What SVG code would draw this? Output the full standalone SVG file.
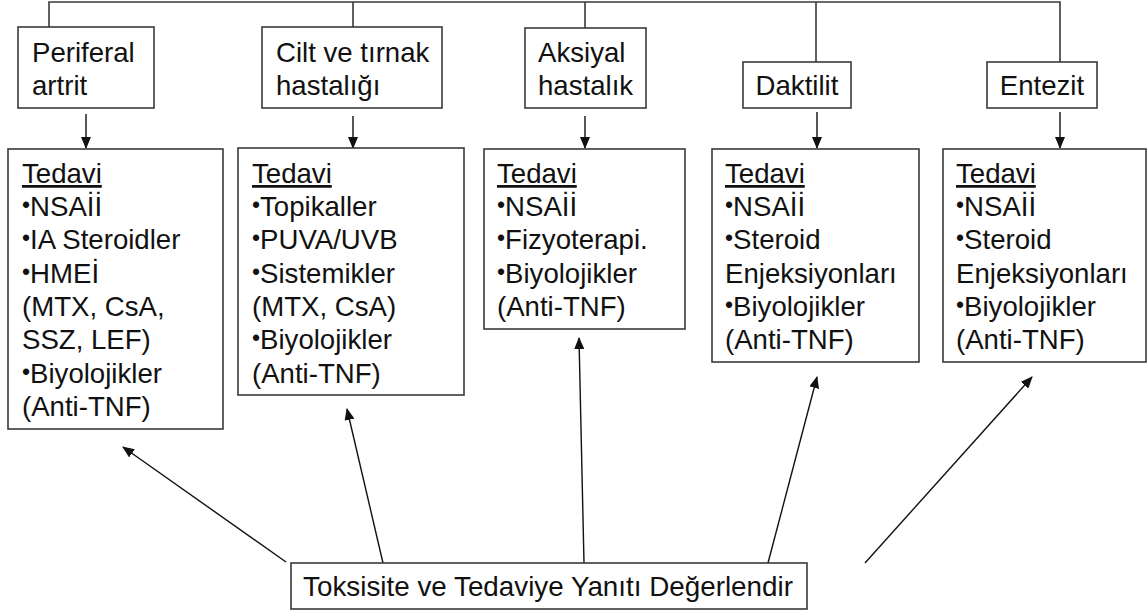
<svg xmlns="http://www.w3.org/2000/svg" width="1148" height="611" viewBox="0 0 1148 611">
<style>
.box{fill:#fff;stroke:#3a3a3a;stroke-width:1.6}
.t{font-family:"Liberation Sans",Arial,sans-serif;font-size:27.6px;fill:#111}
.u{text-decoration:underline}
.b{font-size:23px;baseline-shift:3px}
.ln{fill:none;stroke:#3a3a3a;stroke-width:1.6}
.ar{fill:none;stroke:#111;stroke-width:1.4;marker-end:url(#ah)}
</style>
<defs>
<marker id="ah" markerUnits="userSpaceOnUse" markerWidth="12" markerHeight="10" refX="11" refY="5" orient="auto">
<path d="M0,0 L12,5 L0,10 Z" fill="#111"/>
</marker>
</defs>
<rect width="1148" height="611" fill="#fff"/>
<g id="connectors">
<path class="ln" d="M49,27 V2 H1060 V62 M353,2 V27 M585,2 V28 M816,2 V62"/>
<line class="ar" x1="86" y1="114" x2="86" y2="148"/>
<line class="ar" x1="353" y1="116" x2="353" y2="148"/>
<line class="ar" x1="585" y1="116" x2="585" y2="148"/>
<line class="ar" x1="817" y1="112" x2="817" y2="148"/>
<line class="ar" x1="1060" y1="112" x2="1060" y2="148"/>
<line class="ar" x1="286" y1="562" x2="123" y2="447"/>
<line class="ar" x1="383" y1="563" x2="347" y2="409"/>
<line class="ar" x1="584" y1="563" x2="579" y2="338"/>
<line class="ar" x1="768" y1="563" x2="817" y2="377"/>
<line class="ar" x1="865" y1="563" x2="1032" y2="377"/>
</g>
<g id="periferal">
<rect class="box" x="18" y="27" width="136" height="81"/>
<text class="t" x="32" y="62">Periferal</text>
<text class="t" x="32" y="95">artrit</text>
</g>
<g id="cilt">
<rect class="box" x="262" y="27" width="180" height="81"/>
<text class="t" x="276" y="62">Cilt ve tırnak</text>
<text class="t" x="276" y="95">hastalığı</text>
</g>
<g id="aksiyal">
<rect class="box" x="525" y="28" width="121" height="80"/>
<text class="t" x="538" y="62">Aksiyal</text>
<text class="t" x="538" y="95">hastalık</text>
</g>
<g id="daktilit">
<rect class="box" x="743" y="62" width="108" height="46"/>
<text class="t" x="797" y="95" text-anchor="middle">Daktilit</text>
</g>
<g id="entezit">
<rect class="box" x="987" y="62" width="110" height="46"/>
<text class="t" x="1042" y="95" text-anchor="middle">Entezit</text>
</g>
<g id="tedavi1">
<rect class="box" x="8" y="149" width="215" height="280"/>
<text class="t u" x="22" y="183">Tedavi</text>
<text class="t" x="22" y="216"><tspan class="b">•</tspan>NSAİİ</text>
<text class="t" x="22" y="249"><tspan class="b">•</tspan>IA Steroidler</text>
<text class="t" x="22" y="283"><tspan class="b">•</tspan>HMEİ</text>
<text class="t" x="22" y="316">(MTX, CsA,</text>
<text class="t" x="22" y="349">SSZ, LEF)</text>
<text class="t" x="22" y="383"><tspan class="b">•</tspan>Biyolojikler</text>
<text class="t" x="22" y="416">(Anti-TNF)</text>
</g>
<g id="tedavi2">
<rect class="box" x="238" y="148" width="226" height="247"/>
<text class="t u" x="252" y="183">Tedavi</text>
<text class="t" x="252" y="216"><tspan class="b">•</tspan>Topikaller</text>
<text class="t" x="252" y="249"><tspan class="b">•</tspan>PUVA/UVB</text>
<text class="t" x="252" y="283"><tspan class="b">•</tspan>Sistemikler</text>
<text class="t" x="252" y="316">(MTX, CsA)</text>
<text class="t" x="252" y="349"><tspan class="b">•</tspan>Biyolojikler</text>
<text class="t" x="252" y="383">(Anti-TNF)</text>
</g>
<g id="tedavi3">
<rect class="box" x="484" y="149" width="201" height="180"/>
<text class="t u" x="497" y="183">Tedavi</text>
<text class="t" x="497" y="216"><tspan class="b">•</tspan>NSAİİ</text>
<text class="t" x="497" y="249"><tspan class="b">•</tspan>Fizyoterapi.</text>
<text class="t" x="497" y="283"><tspan class="b">•</tspan>Biyolojikler</text>
<text class="t" x="497" y="316">(Anti-TNF)</text>
</g>
<g id="tedavi4">
<rect class="box" x="712" y="149" width="207" height="213"/>
<text class="t u" x="725" y="183">Tedavi</text>
<text class="t" x="725" y="216"><tspan class="b">•</tspan>NSAİİ</text>
<text class="t" x="725" y="249"><tspan class="b">•</tspan>Steroid</text>
<text class="t" x="725" y="283">Enjeksiyonları</text>
<text class="t" x="725" y="316"><tspan class="b">•</tspan>Biyolojikler</text>
<text class="t" x="725" y="349">(Anti-TNF)</text>
</g>
<g id="tedavi5">
<rect class="box" x="943" y="149" width="203" height="213"/>
<text class="t u" x="956" y="183">Tedavi</text>
<text class="t" x="956" y="216"><tspan class="b">•</tspan>NSAİİ</text>
<text class="t" x="956" y="249"><tspan class="b">•</tspan>Steroid</text>
<text class="t" x="956" y="283">Enjeksiyonları</text>
<text class="t" x="956" y="316"><tspan class="b">•</tspan>Biyolojikler</text>
<text class="t" x="956" y="349">(Anti-TNF)</text>
</g>
<g id="degerlendir">
<rect class="box" x="291" y="563" width="516" height="46"/>
<text class="t" x="548" y="596" text-anchor="middle" style="font-size:27.8px">Toksisite ve Tedaviye Yanıtı Değerlendir</text>
</g>
</svg>
